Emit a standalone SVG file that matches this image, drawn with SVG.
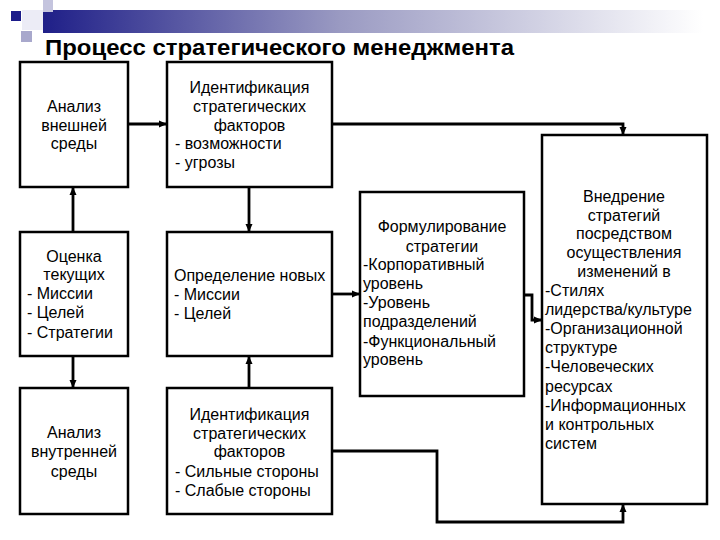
<svg xmlns="http://www.w3.org/2000/svg" width="720" height="540" viewBox="0 0 720 540">
<defs>
<linearGradient id="bar" x1="0" y1="0" x2="1" y2="0">
<stop offset="0" stop-color="#1f1f88"/>
<stop offset="0.45" stop-color="#9a9ac2"/>
<stop offset="1" stop-color="#ffffff"/>
</linearGradient>
<marker id="arr" markerUnits="userSpaceOnUse" markerWidth="9" markerHeight="8" refX="8" refY="4" orient="auto">
<path d="M0,0.5 L8,4 L0,7.5 z" fill="#000"/>
</marker>
<style>
.box{fill:#fff;stroke:#000;stroke-width:2.5}
.t{font-family:"Liberation Sans",Arial,sans-serif;font-size:16px;fill:#000}
.c{text-anchor:middle}
.con{fill:none;stroke:#000;stroke-width:2.8;marker-end:url(#arr)}
.ttl{font-family:"Liberation Sans",Arial,sans-serif;font-size:22px;font-weight:bold;fill:#000}
</style>
</defs>
<rect width="720" height="540" fill="#fff"/>
<g id="decor">
<rect x="43" y="10" width="660" height="23" fill="url(#bar)"/>
<rect x="22" y="10" width="21" height="20" fill="#ececf6"/>
<rect x="43" y="0" width="10" height="12" fill="#c4c4de"/>
<rect x="21" y="31" width="11" height="11" fill="#a8a8cc"/>
<rect x="11" y="11" width="10" height="10" fill="#1c1c8a"/>
</g>
<text class="ttl" x="45" y="55" textLength="469" lengthAdjust="spacingAndGlyphs">Процесс стратегического менеджмента</text>
<g id="connectors">
<path class="con" d="M128,124 H167"/>
<path class="con" d="M73,232 V187"/>
<path class="con" d="M73,356 V388"/>
<path class="con" d="M249,187 V232"/>
<path class="con" d="M249,388 V356"/>
<path class="con" d="M332,124 H623 V135"/>
<path class="con" d="M332,294 H360"/>
<path class="con" d="M524,295 H532 V320 H542"/>
<path class="con" d="M332,451 H437 V522 H623 V504"/>
</g>
<g id="n1">
<rect class="box" x="20" y="62" width="108" height="125"/>
<text class="t c" x="74" y="112">Анализ</text>
<text class="t c" x="74" y="130.5">внешней</text>
<text class="t c" x="74" y="149">среды</text>
</g>
<g id="n2">
<rect class="box" x="167" y="62" width="165" height="125"/>
<text class="t c" x="249.5" y="93">Идентификация</text>
<text class="t c" x="249.5" y="111.5">стратегических</text>
<text class="t c" x="249.5" y="130.5">факторов</text>
<text class="t" x="175" y="149">- возможности</text>
<text class="t" x="175" y="168">- угрозы</text>
</g>
<g id="n3">
<rect class="box" x="20" y="232" width="108" height="124"/>
<text class="t c" x="74" y="261.5">Оценка</text>
<text class="t c" x="74" y="280">текущих</text>
<text class="t" x="27" y="299">- Миссии</text>
<text class="t" x="27" y="318">- Целей</text>
<text class="t" x="27" y="338">- Стратегии</text>
</g>
<g id="n4">
<rect class="box" x="167" y="232" width="165" height="124"/>
<text class="t" x="174" y="281">Определение новых</text>
<text class="t" x="174" y="300">- Миссии</text>
<text class="t" x="174" y="319">- Целей</text>
</g>
<g id="n5">
<rect class="box" x="20" y="388" width="108" height="126"/>
<text class="t c" x="74" y="438">Анализ</text>
<text class="t c" x="74" y="457">внутренней</text>
<text class="t c" x="74" y="476.5">среды</text>
</g>
<g id="n6">
<rect class="box" x="167" y="388" width="165" height="126"/>
<text class="t c" x="249.5" y="420">Идентификация</text>
<text class="t c" x="249.5" y="438.5">стратегических</text>
<text class="t c" x="249.5" y="457">факторов</text>
<text class="t" x="175" y="477">- Сильные стороны</text>
<text class="t" x="175" y="495.5">- Слабые стороны</text>
</g>
<g id="n7">
<rect class="box" x="360" y="192" width="164" height="204"/>
<text class="t c" x="442" y="232">Формулирование</text>
<text class="t c" x="442" y="251.5">стратегии</text>
<text class="t" x="363" y="270">-Корпоративный</text>
<text class="t" x="363" y="289">уровень</text>
<text class="t" x="363" y="308">-Уровень</text>
<text class="t" x="363" y="327">подразделений</text>
<text class="t" x="363" y="346.5">-Функциональный</text>
<text class="t" x="363" y="365">уровень</text>
</g>
<g id="n8">
<rect class="box" x="542" y="135" width="165" height="369"/>
<text class="t c" x="624" y="202">Внедрение</text>
<text class="t c" x="624" y="220.5">стратегий</text>
<text class="t c" x="624" y="239">посредством</text>
<text class="t c" x="624" y="257.5">осуществления</text>
<text class="t c" x="624" y="277">изменений в</text>
<text class="t" x="545" y="295.5">-Стилях</text>
<text class="t" x="545" y="315">лидерства/культуре</text>
<text class="t" x="545" y="334">-Организационной</text>
<text class="t" x="545" y="352.5">структуре</text>
<text class="t" x="545" y="372">-Человеческих</text>
<text class="t" x="545" y="391.5">ресурсах</text>
<text class="t" x="545" y="410.5">-Информационных</text>
<text class="t" x="545" y="430">и контрольных</text>
<text class="t" x="545" y="448.5">систем</text>
</g>
</svg>
